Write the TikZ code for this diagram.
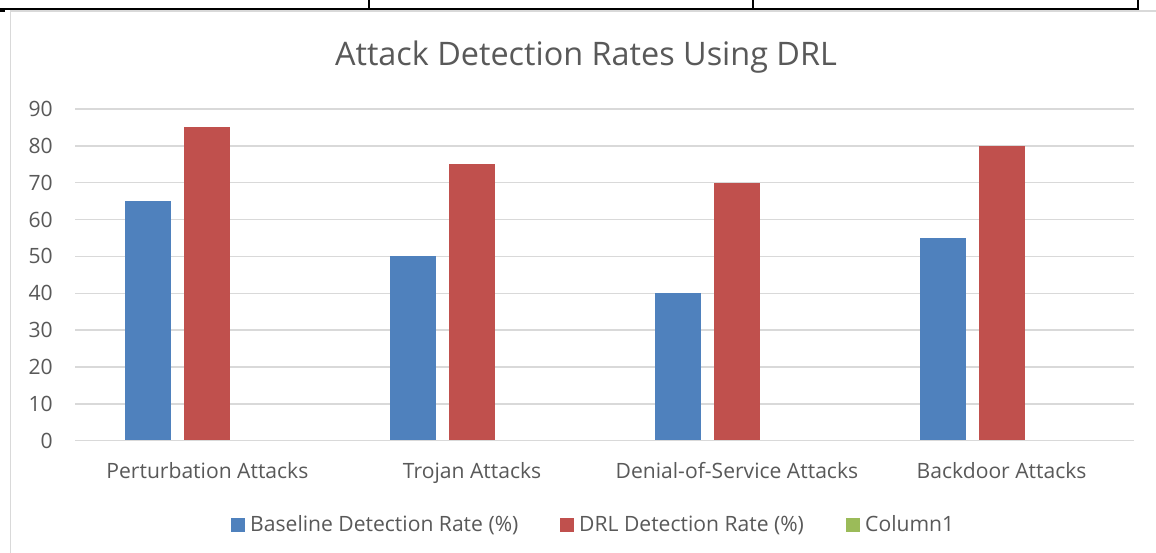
\documentclass[tikz,border=0pt]{standalone}
\usepackage{fontspec}
\setmainfont{Open Sans}
\definecolor{txt}{HTML}{595959}
\definecolor{grid}{HTML}{D9D9D9}
\definecolor{sblue}{HTML}{4F81BD}
\definecolor{sred}{HTML}{C0504D}
\definecolor{sgreen}{HTML}{9BBB59}
\tikzset{
  gridline/.style={draw=grid, line width=1.5pt},
  lblfont/.style={text=txt, font=\fontsize{21.1}{24}\selectfont, inner sep=0pt},
  tick/.style={lblfont, anchor=base east},
  catlabel/.style={lblfont, anchor=base},
  legtext/.style={lblfont, anchor=base west},
  legsq/.style={minimum width=14pt, minimum height=14pt, inner sep=0pt, anchor=west},
  tableline/.style={draw=black, line width=2pt},
}
\begin{document}
\begin{tikzpicture}[x=1pt, y=-1pt]
\useasboundingbox (0,0) rectangle (1156,553);
\fill[white] (0,0) rectangle (1156,553);
% table lines at top
\coordinate (t0) at (0,9);
\coordinate (t1) at (1138,9);
\draw[tableline] (t0) -- (t1);
\coordinate (v1a) at (369,0); \coordinate (v1b) at (369,9);
\coordinate (v2a) at (753,0); \coordinate (v2b) at (753,9);
\coordinate (v3a) at (1138,0); \coordinate (v3b) at (1138,10);
\draw[tableline] (v1a) -- (v1b);
\draw[tableline] (v2a) -- (v2b);
\draw[tableline] (v3a) -- (v3b);
\fill[black] (0,8) rectangle (5,12);
% chart area border
\draw[grid, line width=1.5pt] (10.5,560) -- (10.5,11) -- (1160,11);
% title
\node[text=txt, font=\fontsize{32.4}{36}\selectfont, inner sep=0pt, anchor=base] (title) at (586,66) {Attack Detection Rates Using DRL};
% grid lines and ticks
\foreach \v in {0,10,...,90} {
  \pgfmathsetmacro{\yy}{440.7-3.6856*\v}
  \draw[gridline] (75,\yy) -- (1134,\yy);
  \node[tick] (tick\v) at (53,\yy+7.5) {\v};
}
% bars
\def\base{440.7}
\foreach \c/\b/\r/\lab [count=\i] in {207.4/65/85/Perturbation Attacks, 472.1/50/75/Trojan Attacks, 736.9/40/70/Denial-of-Service Attacks, 1001.6/55/80/Backdoor Attacks} {
  \pgfmathsetmacro{\yb}{440.7-3.6856*\b}
  \pgfmathsetmacro{\yr}{440.7-3.6856*\r}
  \fill[sblue] (\c-82,\base-0.75) rectangle (\c-36,\yb);
  \fill[sred] (\c-23,\base-0.75) rectangle (\c+23,\yr);
  \node[catlabel] (cat\i) at (\c,478.3) {\lab};
}
% legend
\node[legsq, fill=sblue] (lb) at (231,525) {};
\node[legtext] (lbt) at (250,531.7) {Baseline Detection Rate (\%)};
\node[legsq, fill=sred] (lr) at (560,525) {};
\node[legtext] (lrt) at (579,531.7) {DRL Detection Rate (\%)};
\node[legsq, fill=sgreen] (lg) at (846,525) {};
\node[legtext] (lgt) at (865,531.7) {Column1};
\end{tikzpicture}
\end{document}
